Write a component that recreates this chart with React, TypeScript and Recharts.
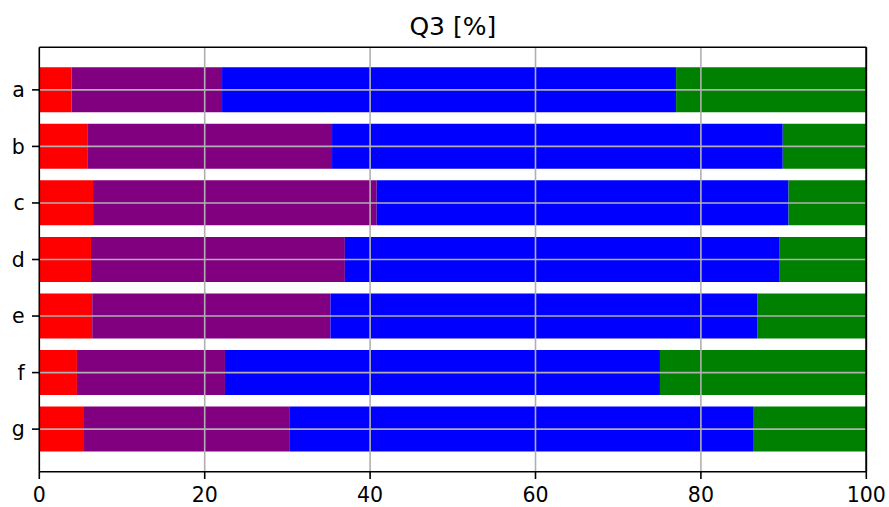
import React from 'react';
import { BarChart, Bar, XAxis, YAxis, ReferenceLine } from 'recharts';

const categories = ['a', 'b', 'c', 'd', 'e', 'f', 'g'];
const redValues = [3.9, 5.8, 6.5, 6.25, 6.4, 4.55, 5.3];
const purpleValues = [18.2, 29.6, 34.3, 30.7, 28.8, 17.9, 25.0];
const blueValues = [54.9, 54.5, 49.8, 52.5, 51.6, 52.6, 56.0];
const greenValues = [23.0, 10.1, 9.4, 10.55, 13.2, 24.95, 13.7];
const xTicks = [0, 20, 40, 60, 80, 100];
const gridX = [20, 40, 60, 80];

const data = categories.map((c, i) => ({
  cat: c,
  red: redValues[i],
  purple: purpleValues[i],
  blue: blueValues[i],
  green: greenValues[i],
}));

const FONT = 'DejaVu Sans, sans-serif';
const GRID = '#b0b0b0';
const LW = 1.6;

export default function App() {
  return (
    <div style={{ position: 'absolute', left: 0, top: 0, width: 889, height: 507, background: '#fff' }}>
      <svg width={889} height={50} style={{ position: 'absolute', left: 0, top: 0 }}>
        <text x={452.8} y={34.8} textAnchor="middle" fontFamily={FONT} fontSize={25} fill="#000">
          Q3 [%]
        </text>
      </svg>
      <div style={{ position: 'absolute', left: 0, top: 0 }}>
        <BarChart
          width={889}
          height={507}
          data={data}
          layout="vertical"
          margin={{ top: 46.3, right: 21.7, bottom: 0, left: 0 }}
          barCategoryGap="10%"
        >
          <XAxis
            type="number"
            domain={[0, 100]}
            ticks={xTicks}
            interval={0}
            height={35.3}
            tickSize={7.3}
            tickMargin={8.5}
            axisLine={{ stroke: '#000', strokeWidth: LW }}
            tickLine={{ stroke: '#000', strokeWidth: LW }}
            tick={{ fill: '#000', fontFamily: FONT, fontSize: 20.5 }}
          />
          <XAxis
            xAxisId="top"
            orientation="top"
            type="number"
            domain={[0, 100]}
            ticks={xTicks}
            height={1}
            tick={false}
            tickLine={false}
            axisLine={{ stroke: '#000', strokeWidth: LW }}
          />
          <YAxis
            type="category"
            dataKey="cat"
            width={39.3}
            padding={{ top: 14.3, bottom: 14.3 }}
            tickSize={7.3}
            tickMargin={7.3}
            interval={0}
            axisLine={{ stroke: '#000', strokeWidth: LW }}
            tickLine={{ stroke: '#000', strokeWidth: LW }}
            tick={{ fill: '#000', fontFamily: FONT, fontSize: 20.5 }}
          />
          <YAxis
            yAxisId="right"
            orientation="right"
            type="category"
            dataKey="cat"
            width={1}
            padding={{ top: 14.3, bottom: 14.3 }}
            tick={false}
            tickLine={false}
            axisLine={{ stroke: '#000', strokeWidth: LW }}
          />
          <Bar dataKey="red" stackId="s" fill="#ff0000" isAnimationActive={false} />
          <Bar dataKey="purple" stackId="s" fill="#800080" isAnimationActive={false} />
          <Bar dataKey="blue" stackId="s" fill="#0000ff" isAnimationActive={false} />
          <Bar dataKey="green" stackId="s" fill="#008000" isAnimationActive={false} />
          {gridX.map((v) => (
            <ReferenceLine key={'x' + v} x={v} stroke={GRID} strokeWidth={LW} zIndex={450} />
          ))}
          {categories.map((c) => (
            <ReferenceLine key={'y' + c} y={c} stroke={GRID} strokeWidth={LW} zIndex={450} />
          ))}
          <ReferenceLine x={100} stroke="#000" strokeWidth={LW} zIndex={460} />
        </BarChart>
      </div>
    </div>
  );
}
